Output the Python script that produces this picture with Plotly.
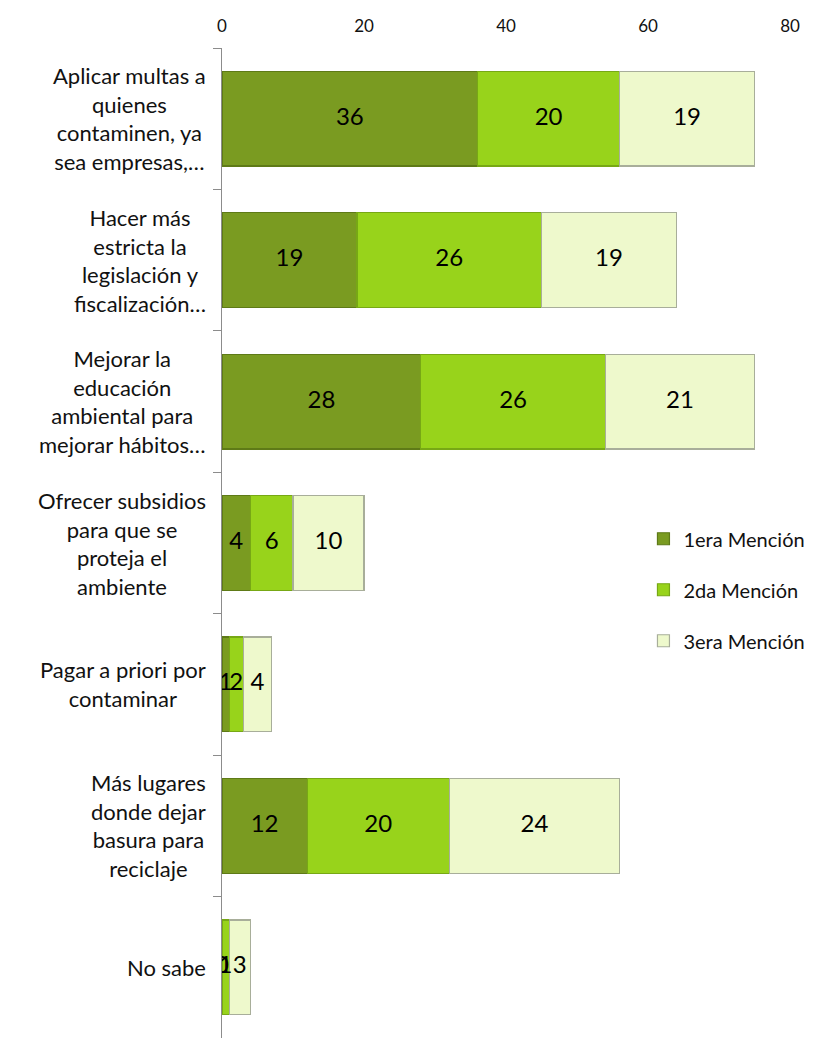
import plotly.graph_objects as go

categories = [
    "Aplicar multas a<br>quienes<br>contaminen, ya<br>sea empresas,…",
    "Hacer más<br>estricta la<br>legislación y<br>fiscalización…",
    "Mejorar la<br>educación<br>ambiental para<br>mejorar hábitos…",
    "Ofrecer subsidios<br>para que se<br>proteja el<br>ambiente",
    "Pagar a priori por<br>contaminar",
    "Más lugares<br>donde dejar<br>basura para<br>reciclaje",
    "No sabe",
]
series_names = ["1era Mención", "2da Mención", "3era Mención"]
mencion1 = [36, 19, 28, 4, 1, 12, 0]
mencion2 = [20, 26, 26, 6, 2, 20, 1]
mencion3 = [19, 19, 21, 10, 4, 24, 3]
x_ticks = [0, 20, 40, 60, 80]

series_values = [mencion1, mencion2, mencion3]
fills = ["#7A9B21", "#98D31B", "#EEF9CC"]
edges = ["#5E7A17", "#77A815", "#A8AE9A"]
FONT = "Lato"

fig = go.Figure()
for name, vals, fc, ec in zip(series_names, series_values, fills, edges):
    fig.add_trace(go.Bar(
        y=categories, x=vals, name=name, orientation="h",
        marker=dict(color=fc, line=dict(color=ec, width=1.2)),
        legendgroup=name, hoverinfo="x+name",
    ))

# data labels at the centre of each stacked segment
base = [0] * len(categories)
for vals in series_values:
    centers = [b + v / 2 for b, v in zip(base, vals)]
    fig.add_trace(go.Scatter(
        y=categories, x=centers, mode="text", text=[str(v) for v in vals],
        textfont=dict(family=FONT, size=24, color="#000000"),
        showlegend=False, hoverinfo="skip",
    ))
    base = [b + v for b, v in zip(base, vals)]

for cat in categories:
    fig.add_annotation(
        x=0, xref="paper", y=cat, yref="y", text=cat, showarrow=False,
        xanchor="right", yanchor="middle", align="center", xshift=-14,
        font=dict(family=FONT, size=22, color="#111111"),
    )

fig.update_layout(
    width=810, height=1030,
    margin=dict(l=214, r=28, t=40, b=0, autoexpand=False),
    barmode="stack", bargap=0.33,
    paper_bgcolor="white", plot_bgcolor="white",
    font=dict(family=FONT, color="#111111"),
    showlegend=True,
    legend=dict(
        x=0.742, y=0.524, xanchor="left", yanchor="top",
        traceorder="grouped", tracegroupgap=22,
        font=dict(family=FONT, size=20, color="#111111"),
        bgcolor="rgba(0,0,0,0)", itemwidth=30,
    ),
    xaxis=dict(
        side="top", range=[0, 80], tickvals=x_ticks,
        ticktext=[str(t) for t in x_ticks],
        showgrid=False, zeroline=False, showline=False, ticks="",
        ticklabelstandoff=12,
        tickfont=dict(family=FONT, size=17, color="#111111"),
        automargin=False,
    ),
    yaxis=dict(
        autorange="reversed", showticklabels=False,
        showline=True, linecolor="#8C8C8C", linewidth=1.3,
        ticks="outside", ticklen=8, tickcolor="#8C8C8C", tickson="boundaries",
        showgrid=False, automargin=False,
    ),
)

fig.write_html("out.html")
